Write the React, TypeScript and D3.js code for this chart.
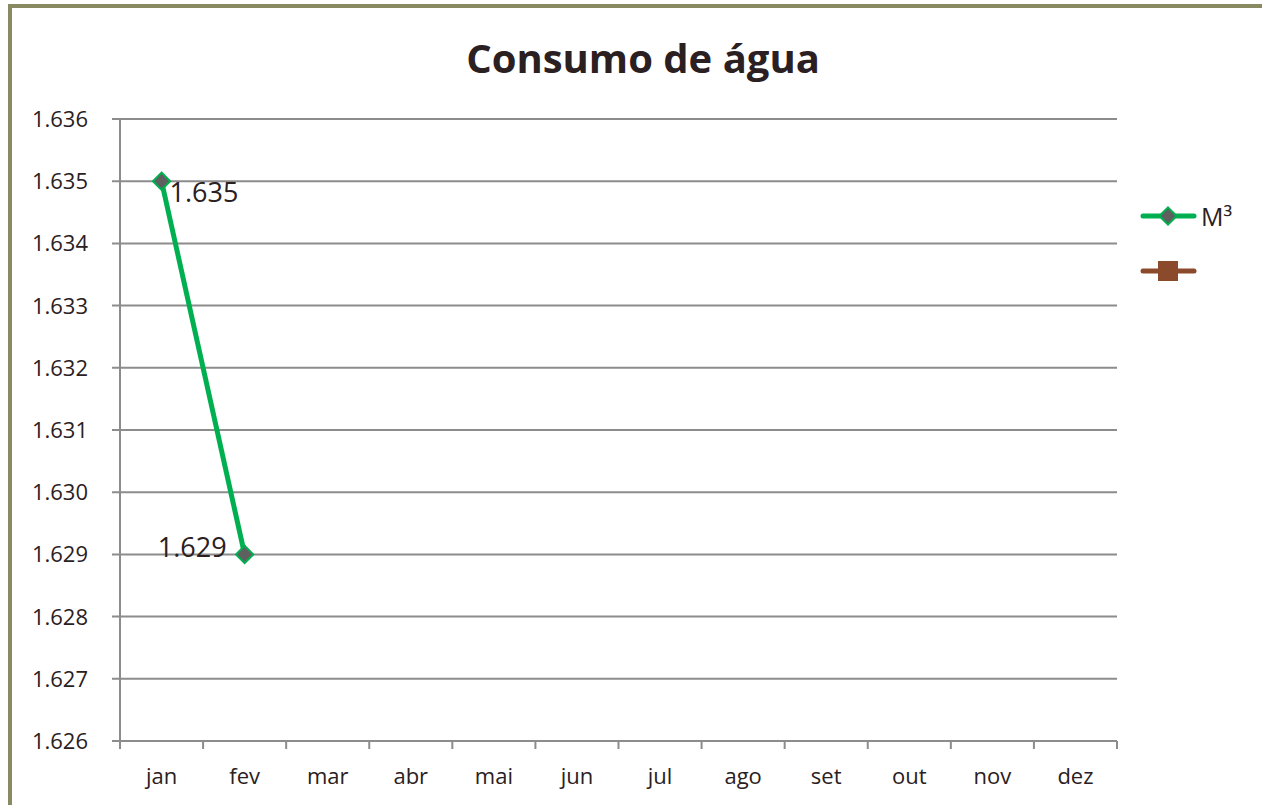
import React, { useEffect, useRef } from 'react';
import * as d3 from 'd3';

const months = ['jan', 'fev', 'mar', 'abr', 'mai', 'jun', 'jul', 'ago', 'set', 'out', 'nov', 'dez'];
const consumo = [1635, 1629]; // M³, only jan and fev filled
const yTicks = [1626, 1627, 1628, 1629, 1630, 1631, 1632, 1633, 1634, 1635, 1636];
const seriesNames = ['M³', ''];
const seriesColors = ['#00b050', '#8b4a2b'];

const fmt = (v: number) => d3.format(',')(v).replace(',', '.');

const W = 1262, H = 805;
const left = 120, right = 1117, top = 119, bottom = 741;
const font = "'Open Sans', Lato, sans-serif";

const App = () => {
  const ref = useRef<SVGGElement>(null);

  useEffect(() => {
    const g = d3.select(ref.current);
    g.selectAll('*').remove();

    const x = d3.scaleBand().domain(months).range([left, right]);
    const y = d3.scaleLinear().domain([1626, 1636]).range([bottom, top]);

    // frame
    g.append('path').attr('d', `M10,${H} V6 H${W}`)
      .attr('fill', 'none').attr('stroke', '#8a8a62').attr('stroke-width', 4);

    g.append('text').attr('x', 643).attr('y', 73).attr('text-anchor', 'middle')
      .attr('font-family', font).attr('font-weight', 700).attr('font-size', 40)
      .attr('fill', '#2b2021').text('Consumo de água');

    // gridlines + y ticks
    g.selectAll('.grid').data(yTicks).enter().append('line')
      .attr('x1', left - 8).attr('x2', right)
      .attr('y1', d => y(d)).attr('y2', d => y(d))
      .attr('stroke', '#8c8c8c').attr('stroke-width', 2);

    g.selectAll('.ylab').data(yTicks).enter().append('text')
      .attr('x', 88).attr('y', d => y(d) + 8).attr('text-anchor', 'end')
      .attr('font-family', font).attr('font-size', 22).attr('fill', '#2b2021')
      .text(d => fmt(d));

    g.append('line').attr('x1', left).attr('x2', left).attr('y1', top).attr('y2', bottom)
      .attr('stroke', '#8c8c8c').attr('stroke-width', 2);

    // x ticks
    const xt = [...months.map(m => x(m) as number), right];
    g.selectAll('.xt').data(xt).enter().append('line')
      .attr('x1', d => d).attr('x2', d => d).attr('y1', bottom).attr('y2', bottom + 8)
      .attr('stroke', '#8c8c8c').attr('stroke-width', 2);

    g.selectAll('.xlab').data(months).enter().append('text')
      .attr('x', d => (x(d) as number) + x.bandwidth() / 2).attr('y', 784)
      .attr('text-anchor', 'middle')
      .attr('font-family', font).attr('font-size', 22).attr('fill', '#2b2021')
      .text(d => d);

    const cx = (i: number) => (x(months[i]) as number) + x.bandwidth() / 2;

    const line = d3.line<number>().x((d, i) => cx(i)).y(d => y(d));
    g.append('path').attr('d', line(consumo))
      .attr('fill', 'none').attr('stroke', seriesColors[0]).attr('stroke-width', 5);

    const diamond = d3.symbol().type(d3.symbolDiamond2).size(190);
    g.selectAll('.pt').data(consumo).enter().append('path')
      .attr('d', diamond)
      .attr('transform', (d, i) => `translate(${cx(i)},${y(d)})`)
      .attr('fill', '#5f5f5f').attr('stroke', seriesColors[0]).attr('stroke-width', 2);

    g.selectAll('.dl').data(consumo).enter().append('text')
      .attr('x', (d, i) => i === 0 ? cx(i) + 8 : cx(i) - 18)
      .attr('y', (d, i) => i === 0 ? y(d) + 21 : y(d) + 3)
      .attr('text-anchor', (d, i) => i === 0 ? 'start' : 'end')
      .attr('font-family', font).attr('font-size', 27).attr('fill', '#2b2021')
      .text(d => fmt(d));

    // legend
    const lg = g.append('g');
    seriesNames.forEach((name, i) => {
      const ly = 216 + i * 55;
      lg.append('line').attr('x1', 1143).attr('x2', 1194).attr('y1', ly).attr('y2', ly)
        .attr('stroke', seriesColors[i]).attr('stroke-width', 5).attr('stroke-linecap', 'round');
      if (i === 0) {
        lg.append('path').attr('d', diamond).attr('transform', `translate(1168,${ly})`)
          .attr('fill', '#5f5f5f').attr('stroke', seriesColors[0]).attr('stroke-width', 2);
      } else {
        lg.append('rect').attr('x', 1158).attr('y', ly - 10).attr('width', 20).attr('height', 20)
          .attr('fill', seriesColors[1]);
      }
      lg.append('text').attr('x', 1201).attr('y', ly + 10)
        .attr('font-family', font).attr('font-size', 25).attr('fill', '#2b2021').text(name);
    });
  }, []);

  return (
    <div style={{ position: 'absolute', left: 0, top: 0 }}>
      <svg width={W} height={H} style={{ display: 'block', background: '#fff' }}>
        <g ref={ref} />
      </svg>
    </div>
  );
};

export default App;
